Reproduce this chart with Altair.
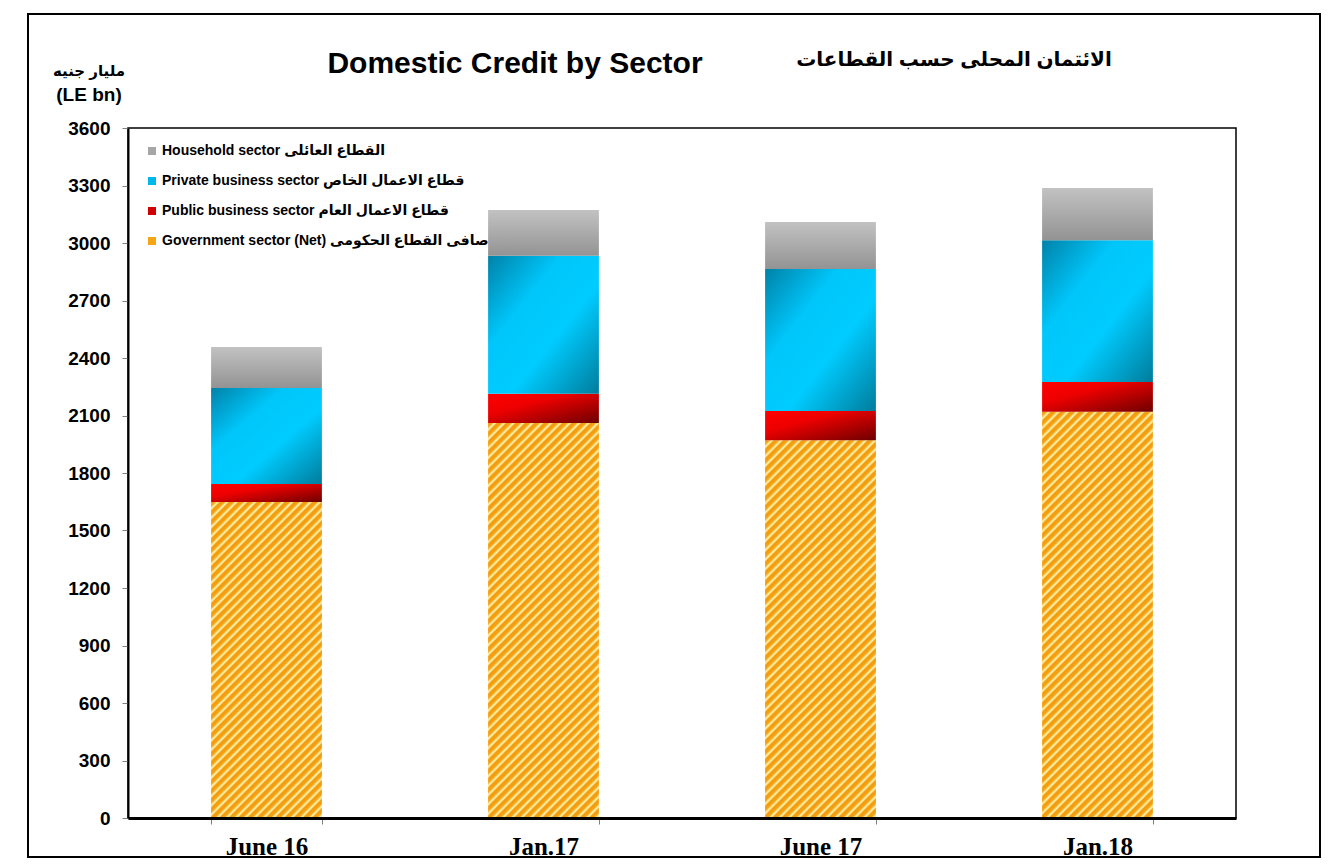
import math
import altair as alt
import pandas as pd

periods = ["June 16", "Jan.17", "June 17", "Jan.18"]
government = [1649, 2061, 1971, 2119]
public_business = [94, 152, 153, 156]
private_business = [501, 720, 740, 740]
household = [214, 239, 245, 272]

sector_keys = ["gov", "public", "private", "household"]
sector_labels = {
    "household": "Household sector  القطاع العائلى",
    "private": "Private business sector  قطاع الاعمال الخاص",
    "public": "Public business sector  قطاع الاعمال العام",
    "gov": "Government sector (Net)  صافى القطاع الحكومى",
}
legend_order = ["household", "private", "public", "gov"]
legend_colors = ["#a6a6a6", "#00b8ea", "#d00000", "#f4a516"]

series = {"gov": government, "public": public_business,
          "private": private_business, "household": household}

rows = []
for i, p in enumerate(periods):
    for k, s in enumerate(sector_keys):
        rows.append({"period": p, "sector": s, "order": k,
                     "label": sector_labels[s], "value": series[s][i]})
df = pd.DataFrame(rows)

W, H = 1108, 690
YMAX = 3600
FONT = "Liberation Sans, Arial, DejaVu Sans"

x_enc = alt.X("period:N", sort=periods, title=None,
              scale=alt.Scale(paddingInner=0.6, paddingOuter=0.3),
              axis=alt.Axis(labelAngle=0, labelFont="Liberation Serif, Times New Roman",
                            labelFontWeight="bold", labelFontSize=25, labelColor="black",
                            labelPadding=10, tickBand="extent", tickSize=6, tickColor="#808080",
                            domainColor="black", domainWidth=3, zindex=1))
y_enc = alt.Y("y0:Q", title=None,
              scale=alt.Scale(domain=[0, YMAX], nice=False),
              axis=alt.Axis(values=list(range(0, YMAX + 1, 300)), format="d", grid=False,
                            labelFont=FONT, labelFontWeight="bold", labelFontSize=19,
                            labelColor="black", labelPadding=12, tickSize=6,
                            tickColor="#808080", domainColor="black", domainWidth=2,
                            zindex=1))

base = alt.Chart(df).transform_stack(
    stack="value", groupby=["period"], as_=["y0", "y1"],
    sort=[alt.SortField("order", order="ascending")])


def stops(pairs):
    return [alt.GradientStop(offset=o, color=c) for o, c in pairs]


grad_household = alt.LinearGradient(gradient="linear", x1=0, y1=0, x2=0, y2=1,
                                    stops=stops([(0, "#c2c2c2"), (1, "#939393")]))
grad_private = alt.LinearGradient(gradient="linear", x1=0, y1=0, x2=1, y2=1,
                                  stops=stops([(0, "#0082a8"), (0.33, "#00c6fa"),
                                               (0.6, "#00ccff"), (1, "#007c9c")]))
grad_public = alt.LinearGradient(gradient="linear", x1=0, y1=0, x2=1, y2=1,
                                 stops=stops([(0, "#ff0000"), (0.35, "#ee0000"),
                                              (1, "#6e0000")]))

BAR_W = W / (4 - 0.6 + 0.6) * 0.4
HATCH_CYCLE = [(0.0, "#f29b0e"), (0.40, "#f4a112"), (0.62, "#fcd977"),
               (0.73, "#fff3b8"), (0.85, "#fbd46b")]


def hatch_gradient(value):
    w = BAR_W
    h = value * H / YMAX
    d = w * w + h * h
    x2 = w * (w + h) / d
    y2 = h * (w + h) / d
    span = (w + h) / math.sqrt(2)
    n = max(1, round(span / 6.6))
    st = []
    for k in range(n):
        for o, c in HATCH_CYCLE:
            st.append((k / n + o / n, c))
    st.append((1.0, HATCH_CYCLE[0][1]))
    return alt.LinearGradient(gradient="linear", x1=0, y1=0, x2=x2, y2=y2,
                              stops=stops(st))


layers = []
for i, p in enumerate(periods):
    layers.append(
        base.transform_filter((alt.datum.sector == "gov") & (alt.datum.period == p))
        .mark_bar(fill=hatch_gradient(government[i]), strokeWidth=0)
        .encode(x=x_enc, y=y_enc, y2="y1:Q"))

for s, g in [("public", grad_public), ("private", grad_private),
             ("household", grad_household)]:
    layers.append(
        base.transform_filter(alt.datum.sector == s)
        .mark_bar(fill=g, strokeWidth=0)
        .encode(x=x_enc, y=y_enc, y2="y1:Q"))

legend_layer = alt.Chart(df).mark_square(opacity=0, size=1).encode(
    color=alt.Color("label:N",
                    scale=alt.Scale(domain=[sector_labels[s] for s in legend_order],
                                    range=legend_colors),
                    legend=alt.Legend(orient="none", legendX=17, legendY=16, title=None,
                                      symbolType="square", symbolSize=64,
                                      symbolOpacity=1, symbolStrokeWidth=0,
                                      labelFont=FONT, labelFontWeight="bold",
                                      labelFontSize=14, labelColor="black",
                                      labelLimit=500, labelOffset=3, rowPadding=16,
                                      padding=0)))
layers.append(legend_layer)

one = pd.DataFrame({"a": [0]})


def text(t, x, y, size, align="center", font=FONT, weight="bold"):
    return alt.Chart(one).mark_text(text=t, font=font, fontSize=size, fontWeight=weight,
                                    align=align, baseline="alphabetic",
                                    color="black").encode(x=alt.value(x), y=alt.value(y))


layers.append(text("Domestic Credit by Sector", 387, -55, 30))
layers.append(text("الائتمان المحلى حسب القطاعات", 826, -62, 20))
layers.append(text("مليار جنيه", -39, -52, 15))
layers.append(text("(LE bn)", -39, -27, 19))

frame = alt.Chart(one).mark_rect(filled=False, stroke="black", strokeWidth=2).encode(
    x=alt.value(-100), x2=alt.value(1192), y=alt.value(-114), y2=alt.value(729))
layers.append(frame)

chart = alt.layer(*layers).properties(
    width=W, height=H,
    padding={"left": 120, "top": 120, "right": 86, "bottom": 40},
    autosize=alt.AutoSizeParams(type="none"),
    background="white",
).configure_view(stroke="black", strokeWidth=1.5)

chart.save("out.html", embed_options={"renderer": "svg", "actions": False})
